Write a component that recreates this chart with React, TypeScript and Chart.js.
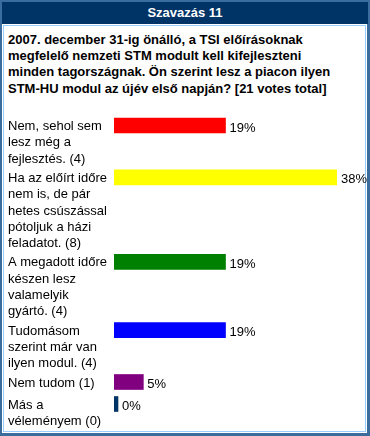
import React, { useEffect, useRef } from "react";
import { Chart, registerables } from "chart.js";

Chart.register(...registerables);

const pollTitle = "Szavazás 11";
const questionLines = [
  "2007. december 31-ig önálló, a TSI előírásoknak",
  "megfelelő nemzeti STM modult kell kifejleszteni",
  "minden tagországnak. Ön szerint lesz a piacon ilyen",
  "STM-HU modul az újév első napján? [21 votes total]",
];
const answerLines: string[][] = [
  ["Nem, sehol sem", "lesz még a", "fejlesztés. (4)"],
  ["Ha az előírt időre", "nem is, de pár", "hetes csúszással", "pótoljuk a házi", "feladatot. (8)"],
  ["A megadott időre", "készen lesz", "valamelyik", "gyártó. (4)"],
  ["Tudomásom", "szerint már van", "ilyen modul. (4)"],
  ["Nem tudom (1)"],
  ["Más a", "véleményem (0)"],
];
const votes = [4, 8, 4, 4, 1, 0];
const percents = [19, 38, 19, 19, 5, 0];
const barColors = ["#ff0000", "#ffff00", "#008000", "#0000ff", "#800080", "#003366"];

const FONT = '"Liberation Sans", Arial, sans-serif';
const LINE = 16.3;
const FIRST_ROW = 25.5;
const CANVAS_W = 370;
const CANVAS_H = 333;

function rowCenters(): number[] {
  let y = FIRST_ROW;
  return answerLines.map((lines) => {
    const c = y;
    y += Math.max(lines.length * LINE, 19) + 3;
    return c;
  });
}

const labelPlugin = {
  id: "pollLabels",
  afterDatasetsDraw(chart: any) {
    const ctx = chart.ctx;
    const meta = chart.getDatasetMeta(0);
    ctx.save();
    ctx.font = `13px ${FONT}`;
    ctx.fillStyle = "#000";
    ctx.textBaseline = "middle";
    ctx.textAlign = "left";
    meta.data.forEach((bar: any, i: number) => {
      const { x, y } = bar.getProps(["x", "y"], true);
      answerLines[i].forEach((line, j) => {
        ctx.fillText(line, 8, y + 1 + j * LINE);
      });
      ctx.fillText(`${percents[i]}%`, x + 4, y + 2.5);
    });
    ctx.restore();
  },
};

export default function App() {
  const ref = useRef<HTMLCanvasElement | null>(null);

  useEffect(() => {
    if (!ref.current) return;
    const centers = rowCenters();
    const chart = new Chart(ref.current, {
      type: "bar",
      data: {
        datasets: [
          {
            label: "votes",
            data: percents.map((p, i) => ({ x: p, y: centers[i], v: votes[i] })) as any,
            backgroundColor: barColors,
            borderWidth: 0,
            barThickness: 15,
            minBarLength: 4,
          },
        ],
      },
      options: {
        indexAxis: "y",
        animation: false,
        responsive: false,
        events: [],
        layout: { padding: { left: 114, right: 33, top: 0, bottom: 0 } },
        scales: {
          x: { type: "linear", min: 0, max: 38, display: false, offset: false },
          y: {
            type: "linear",
            min: 0,
            max: CANVAS_H,
            reverse: true,
            display: false,
            offset: false,
            grace: 0,
          },
        },
        plugins: {
          legend: { display: false },
          tooltip: { enabled: false },
          title: { display: false },
        },
      },
      plugins: [labelPlugin],
    });
    return () => chart.destroy();
  }, []);

  return (
    <div
      style={{
        position: "absolute",
        left: 0,
        top: 0,
        width: 370,
        height: 436,
        background: "#3a6c9e",
        fontFamily: FONT,
        overflow: "hidden",
      }}
    >
      <div
        style={{
          position: "absolute",
          left: 2,
          top: 2,
          width: 366,
          height: 22,
          background: "#003366",
          color: "#fff",
          fontWeight: "bold",
          fontSize: 13,
          lineHeight: "22px",
          textAlign: "center",
        }}
      >
        {pollTitle}
      </div>
      <div
        style={{
          position: "absolute",
          left: 2,
          top: 24,
          width: 365,
          height: 409,
          background: "#fff",
        }}
      />
      <div
        style={{
          position: "absolute",
          left: 3,
          top: 25,
          width: 363,
          height: 407,
          boxSizing: "border-box",
          border: "1px solid #99ccff",
        }}
      />
      <div
        style={{
          position: "absolute",
          left: 8,
          top: 31.85,
          fontWeight: "bold",
          fontSize: 13,
          lineHeight: `${LINE}px`,
          color: "#000",
          whiteSpace: "nowrap",
        }}
      >
        {questionLines.map((l, i) => (
          <div key={i}>{l}</div>
        ))}
      </div>
      <canvas
        ref={ref}
        width={CANVAS_W}
        height={CANVAS_H}
        style={{ position: "absolute", left: 0, top: 100, width: CANVAS_W, height: CANVAS_H }}
      />
    </div>
  );
}
